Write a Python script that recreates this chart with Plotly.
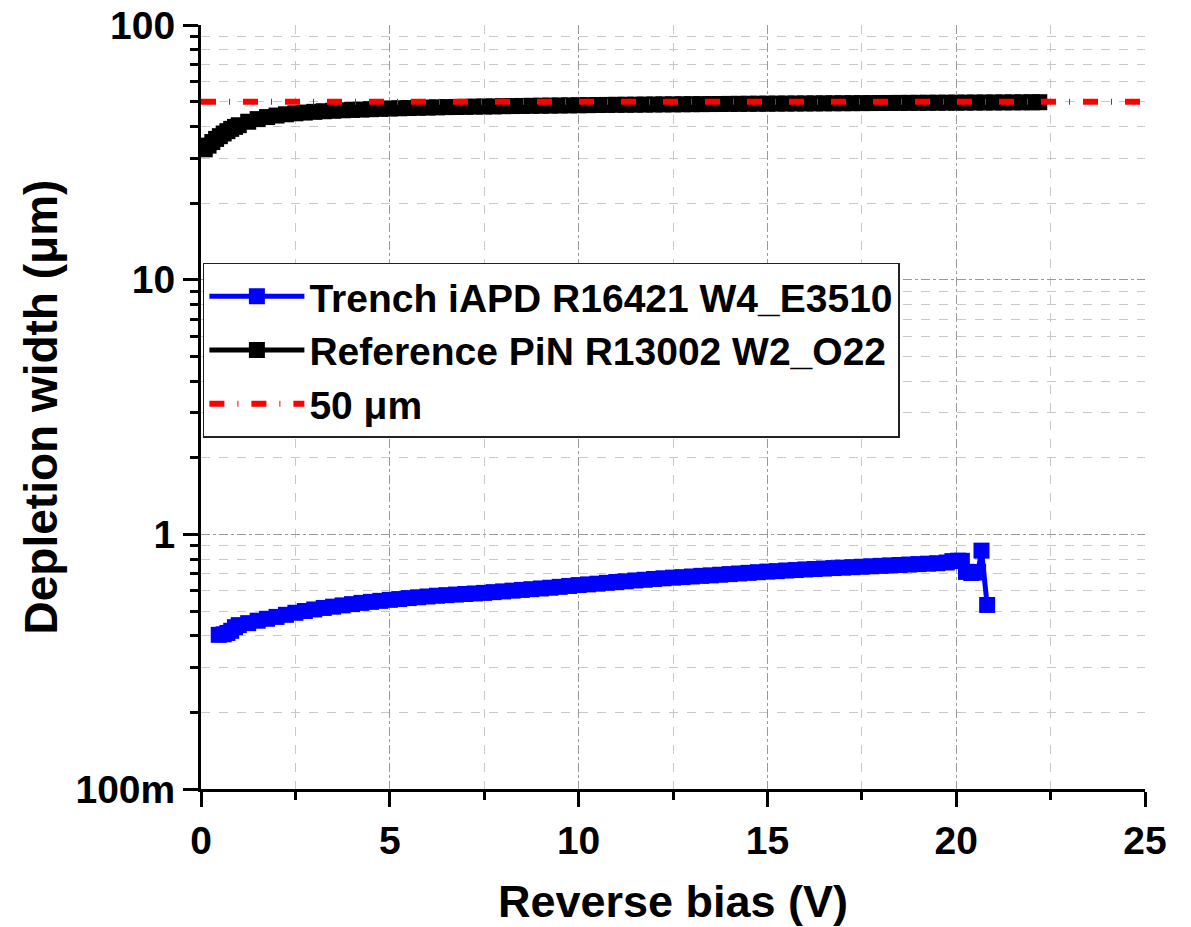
import plotly.graph_objects as go

# ---- data ----
pin_v = [0.1, 0.2, 0.3, 0.4, 0.5, 0.6, 0.7, 0.8, 0.9, 1.0,
         1.25, 1.5, 1.75, 2.0, 2.25, 2.5, 2.75, 3.0, 3.25, 3.5, 3.75, 4.0,
         4.25, 4.5, 4.75, 5.0, 5.25, 5.5, 5.75, 6.0, 6.25, 6.5, 6.75, 7.0,
         7.25, 7.5, 7.75, 8.0, 8.25, 8.5, 8.75, 9.0, 9.25, 9.5, 9.75, 10.0,
         10.25, 10.5, 10.75, 11.0, 11.25, 11.5, 11.75, 12.0, 12.25, 12.5,
         12.75, 13.0, 13.25, 13.5, 13.75, 14.0, 14.25, 14.5, 14.75, 15.0,
         15.25, 15.5, 15.75, 16.0, 16.25, 16.5, 16.75, 17.0, 17.25, 17.5,
         17.75, 18.0, 18.25, 18.5, 18.75, 19.0, 19.25, 19.5, 19.75, 20.0,
         20.25, 20.5, 20.75, 21.0, 21.25, 21.5, 21.75, 22.0, 22.2]
pin_w = [32.5, 33.6, 34.7, 35.7, 36.6, 37.5, 38.3, 39.1, 39.8, 40.4,
         41.7, 42.7, 43.5, 44.1, 44.6, 45.0, 45.3, 45.6, 45.85, 46.05, 46.25, 46.4,
         46.55, 46.7, 46.85, 47.0, 47.1, 47.2, 47.3, 47.4, 47.5, 47.6, 47.65, 47.7,
         47.8, 47.85, 47.9, 48.0, 48.05, 48.1, 48.15, 48.2, 48.25, 48.3, 48.35, 48.4,
         48.45, 48.5, 48.55, 48.6, 48.62, 48.66, 48.7, 48.74, 48.78, 48.8,
         48.84, 48.88, 48.9, 48.93, 48.96, 49.0, 49.02, 49.05, 49.08, 49.1,
         49.13, 49.15, 49.18, 49.2, 49.22, 49.25, 49.28, 49.3, 49.32, 49.35,
         49.37, 49.4, 49.42, 49.44, 49.46, 49.48, 49.5, 49.52, 49.54, 49.56,
         49.58, 49.6, 49.62, 49.64, 49.66, 49.68, 49.7, 49.72, 49.75]

apd_v = [0.47, 0.6, 0.7, 0.8, 0.9, 1.0, 1.25, 1.5, 1.75, 2.0, 2.25, 2.5, 2.75,
         3.0, 3.25, 3.5, 3.75, 4.0, 4.25, 4.5, 4.75, 5.0, 5.25, 5.5, 5.75,
         6.0, 6.25, 6.5, 6.75, 7.0, 7.25, 7.5, 7.75, 8.0, 8.25, 8.5, 8.75,
         9.0, 9.25, 9.5, 9.75, 10.0, 10.25, 10.5, 10.75, 11.0, 11.25, 11.5,
         11.75, 12.0, 12.25, 12.5, 12.75, 13.0, 13.25, 13.5, 13.75, 14.0,
         14.25, 14.5, 14.75, 15.0, 15.25, 15.5, 15.75, 16.0, 16.25, 16.5,
         16.75, 17.0, 17.25, 17.5, 17.75, 18.0, 18.25, 18.5, 18.75, 19.0,
         19.25, 19.5, 19.75, 19.9, 20.05, 20.15, 20.26, 20.4, 20.5, 20.58,
         20.67, 20.82]
apd_w = [0.403, 0.405, 0.410, 0.418, 0.432, 0.440, 0.448, 0.458, 0.466, 0.474,
         0.483, 0.492, 0.500, 0.507, 0.514, 0.520, 0.526, 0.532, 0.538, 0.543,
         0.548, 0.553, 0.557, 0.562, 0.566, 0.570, 0.574, 0.577, 0.580, 0.583,
         0.586, 0.589, 0.593, 0.597, 0.601, 0.605, 0.609, 0.613, 0.617, 0.622,
         0.627, 0.632, 0.636, 0.640, 0.645, 0.650, 0.654, 0.659, 0.663, 0.668,
         0.672, 0.676, 0.679, 0.683, 0.687, 0.690, 0.694, 0.698, 0.702, 0.706,
         0.710, 0.714, 0.717, 0.721, 0.724, 0.728, 0.731, 0.734, 0.737, 0.740,
         0.743, 0.746, 0.749, 0.752, 0.755, 0.758, 0.761, 0.764, 0.767, 0.770,
         0.775, 0.785, 0.788, 0.787, 0.712, 0.705, 0.708, 0.712, 0.863, 0.528]

ref_v = [0, 25]
ref_w = [50, 50]

x_ticks = [0, 5, 10, 15, 20, 25]
y_ticks = [0.1, 1, 10, 100]
y_ticktext = ["100m", "1", "10", "100"]
y_minor = [0.2, 0.3, 0.4, 0.5, 0.6, 0.7, 0.8, 0.9,
           2, 3, 4, 5, 6, 7, 8, 9,
           20, 30, 40, 50, 60, 70, 80, 90]

FONT = "Liberation Sans, Arial, sans-serif"

fig = go.Figure()
fig.add_trace(go.Scatter(
    x=apd_v, y=apd_w, mode="lines+markers",
    name="Trench iAPD R16421 W4_E3510",
    line=dict(color="#0000ff", width=5),
    marker=dict(symbol="square", size=16, color="#0000ff", line=dict(width=0)),
))
fig.add_trace(go.Scatter(
    x=pin_v, y=pin_w, mode="lines+markers",
    name="Reference PiN R13002 W2_O22",
    line=dict(color="#000000", width=5),
    marker=dict(symbol="square", size=16, color="#000000", line=dict(width=0)),
))
fig.add_trace(go.Scatter(
    x=ref_v, y=ref_w, mode="lines",
    name="50 \u03bcm",
    line=dict(color="#ff0000", width=6, dash="15px,13px,1px,13px"),
))

axis_common = dict(
    showline=True, linecolor="black", linewidth=3,
    ticks="outside", ticklen=15, tickwidth=3, tickcolor="black",
    tickfont=dict(family=FONT, size=39, color="black", weight="bold"),
    showgrid=True, gridcolor="#9a9a9a", gridwidth=1, griddash="dashdot",
    zeroline=False, mirror=False, automargin=False,
)

fig.update_xaxes(
    **axis_common,
    range=[0, 25], tickmode="array", tickvals=x_ticks,
    minor=dict(dtick=2.5, tick0=0, ticks="outside", ticklen=8, tickwidth=3,
               tickcolor="black", showgrid=True, gridcolor="#c8c8c8",
               gridwidth=1, griddash="dash"),
    title=dict(text="Reverse bias (V)", standoff=36,
               font=dict(family=FONT, size=45, color="black", weight="bold")),
)
fig.update_yaxes(
    **axis_common,
    type="log", range=[-1, 2], tickmode="array", tickvals=y_ticks,
    ticktext=y_ticktext,
    minor=dict(tickvals=y_minor, ticks="outside", ticklen=8, tickwidth=3,
               tickcolor="black", showgrid=True, gridcolor="#c8c8c8",
               gridwidth=1, griddash="dash"),
    title=dict(text="Depletion width (\u03bcm)", standoff=4,
               font=dict(family=FONT, size=46, color="black", weight="bold")),
)

fig.update_layout(
    width=1191, height=927,
    margin=dict(l=201, r=46, t=25, b=138, autoexpand=False),
    paper_bgcolor="white", plot_bgcolor="white",
    font=dict(family=FONT, color="black"),
    showlegend=True,
    legend=dict(
        x=0.002, y=0.6885, xanchor="left", yanchor="top",
        bgcolor="white", bordercolor="#222222", borderwidth=1.5,
        font=dict(family=FONT, size=39, color="black", weight="bold"),
        itemwidth=95, tracegroupgap=0,
    ),
)

fig.write_html("out.html")
